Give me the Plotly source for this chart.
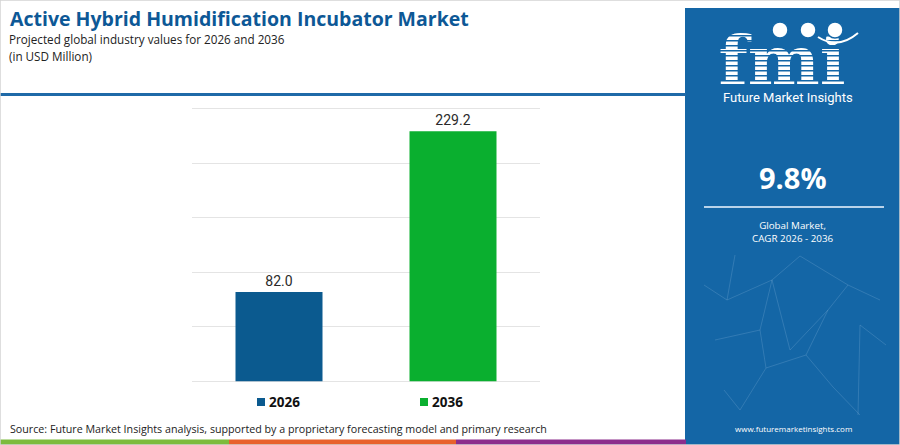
"""Active hybrid humidification incubator market, 2026 vs 2036."""

import plotly.graph_objects as go

W, H = 900, 445

YEARS = ["2026", "2036"]
VALUES = [82.0, 229.2]
BAR_COLORS = ["#0b5a8f", "#0aaf2f"]
Y_TICKS = [0, 50, 100, 150, 200, 250]

TITLE = "Active Hybrid Humidification Incubator Market"
SUBTITLE = "Projected global industry values for 2026 and 2036"
UNITS = "(in USD Million)"
SOURCE = "Source: Future Market Insights analysis, supported by a proprietary forecasting model and primary research"
CAGR = "9.8%"
CAGR_LABEL = "Global Market,<br>CAGR 2026 - 2036"
WEBSITE = "www.futuremarketinsights.com"

PANEL = "#1466a6"
FONT = "Open Sans"

# pixel scale of the value axis: 250 units over 273 px
Y_MAX = 252
PLOT_BOTTOM = 381.5
PX_PER_UNIT = 273 / 250


def px(x):
    return x / W


def py(y):
    return 1 - y / H


def text(label, x, y, size, color="white", family=FONT, xanchor="center"):
    return dict(text=label, x=px(x), y=py(y), xref="paper", yref="paper", xanchor=xanchor, yanchor="middle",
                showarrow=False, font={"family": family, "size": size, "color": color})


def pix_shape(**kw):
    # decoration drawn in page pixels through the hidden overlay axes
    return dict(xref="x2", yref="y2", **kw)


def main():
    fig = go.Figure()
    fig.add_trace(
        go.Bar(
            x=YEARS,
            y=VALUES,
            width=0.5,
            marker={"color": BAR_COLORS, "line": {"width": 0}},
            text=[f"{v:.1f}" for v in VALUES],
            textposition="outside",
            textfont={"family": "Roboto", "size": 14, "color": "#2a2a2a"},
            cliponaxis=False,
            hoverinfo="skip",
            showlegend=False,
        )
    )
    # logo letters live in a trace so the stripe shapes can sit on top of them
    fig.add_trace(
        go.Scatter(
            x=[782],
            y=[67],
            mode="text",
            text=["fmi"],
            textfont={"family": "DejaVu Serif", "size": 68, "color": "white", "weight": "bold"},
            xaxis="x2",
            yaxis="y2",
            hoverinfo="skip",
            showlegend=False,
            cliponaxis=False,
        )
    )

    shapes = []
    annotations = []

    # header rule and bottom colour stripe
    shapes.append(pix_shape(type="line", x0=0, x1=686, y0=94.5, y1=94.5, line={"color": "#1f6aa8", "width": 3}))
    for x0, x1, color in [(0, 229, "#7dbb3c"), (229, 456, "#e8612c"), (456, 686, "#8c2d8c")]:
        shapes.append(pix_shape(type="rect", x0=x0, x1=x1, y0=439.5, y1=445, fillcolor=color, line={"width": 0}))

    # right-hand panel
    shapes.append(pix_shape(type="rect", x0=685, x1=900, y0=8, y1=445, fillcolor=PANEL, line={"width": 0},
                            layer="below"))
    net = [
        (735, 255, 727, 300), (727, 300, 772, 280), (772, 280, 760, 330), (760, 330, 715, 340),
        (772, 280, 800, 256), (800, 256, 848, 285), (848, 285, 880, 300), (848, 285, 828, 310),
        (828, 310, 806, 355), (806, 355, 766, 368), (766, 368, 760, 330), (806, 355, 833, 387),
        (860, 325, 858, 415), (860, 325, 886, 345), (772, 280, 790, 350), (790, 350, 828, 310),
        (724, 390, 740, 410), (740, 410, 766, 368), (833, 387, 860, 415), (704, 285, 727, 300),
    ]
    for x0, y0, x1, y1 in net:
        shapes.append(pix_shape(type="line", x0=x0, x1=x1, y0=y0, y1=y1,
                                line={"color": "rgba(170,205,235,0.2)", "width": 1}))
    shapes.append(pix_shape(type="line", x0=704, x1=884, y0=207, y1=207, line={"color": "#b9d3ea", "width": 2}))

    for y in range(30, 88, 5):
        shapes.append(pix_shape(type="rect", x0=712, x1=870, y0=y, y1=y + 1.6, fillcolor=PANEL, line={"width": 0}))
    for cx in [780, 808, 835]:
        shapes.append(pix_shape(type="circle", x0=cx - 8, x1=cx + 8, y0=22, y1=38, fillcolor="white",
                                line={"color": PANEL, "width": 1.5}))
    shapes.append(pix_shape(type="path", path="M 818 37 Q 838 50 858 33", line={"color": "white", "width": 2}))

    annotations.append(text("Future Market Insights", 788, 97, 13, family="Roboto"))
    annotations.append(text(f"<b>{CAGR}</b>", 793, 177, 29))
    annotations.append(text(CAGR_LABEL, 793, 232, 9.8))
    annotations.append(text(WEBSITE, 793, 428, 8))

    # titles
    annotations.append(text(f"<b>{TITLE}</b>", 8, 18.5, 19.5, color="#0d5896", xanchor="left"))
    annotations.append(text(SUBTITLE, 7, 39, 11.7, color="#222222", xanchor="left"))
    annotations.append(text(UNITS, 7, 55.5, 11.7, color="#222222", xanchor="left"))

    # legend built by hand, one entry under each bar
    for year, color, lx in zip(YEARS, BAR_COLORS, [261, 424]):
        shapes.append(pix_shape(type="rect", x0=lx - 4, x1=lx + 4, y0=398, y1=406, fillcolor=color, line={"width": 0}))
        annotations.append(text(f"<b>{year}</b>", lx + 6, 402, 13.5, color="#111111", xanchor="left"))

    annotations.append(text(SOURCE, 8, 429, 10.7, color="#222222", xanchor="left"))

    # light frame round the whole picture
    shapes.append(dict(type="rect", xref="paper", yref="paper", x0=0, x1=1, y0=0, y1=1,
                       line={"color": "#d4d4d4", "width": 1.5}))

    fig.update_layout(
        width=W,
        height=H,
        margin={"l": 0, "r": 0, "t": 0, "b": 0},
        paper_bgcolor="white",
        plot_bgcolor="rgba(0,0,0,0)",
        xaxis={"domain": [px(192), px(540)], "showticklabels": False, "ticks": "", "showgrid": False,
               "zeroline": False, "showline": False, "fixedrange": True},
        yaxis={"domain": [py(PLOT_BOTTOM), py(PLOT_BOTTOM - Y_MAX * PX_PER_UNIT)], "range": [0, Y_MAX],
               "tickvals": Y_TICKS, "showticklabels": False,
               "gridcolor": "#e4e4e4", "gridwidth": 1, "zeroline": True, "zerolinecolor": "#e4e4e4",
               "zerolinewidth": 1, "showline": False, "fixedrange": True},
        xaxis2={"domain": [0, 1], "range": [0, W], "visible": False, "fixedrange": True, "anchor": "y2"},
        yaxis2={"domain": [0, 1], "range": [H, 0], "visible": False, "fixedrange": True, "anchor": "x2"},
        shapes=shapes,
        annotations=annotations,
    )
    # the page's default body margin would push the 900x445 figure out of the window
    fig.write_html("out.html", config={"displayModeBar": False},
                   post_script="document.body.style.margin = '0';")


if __name__ == "__main__":
    main()
